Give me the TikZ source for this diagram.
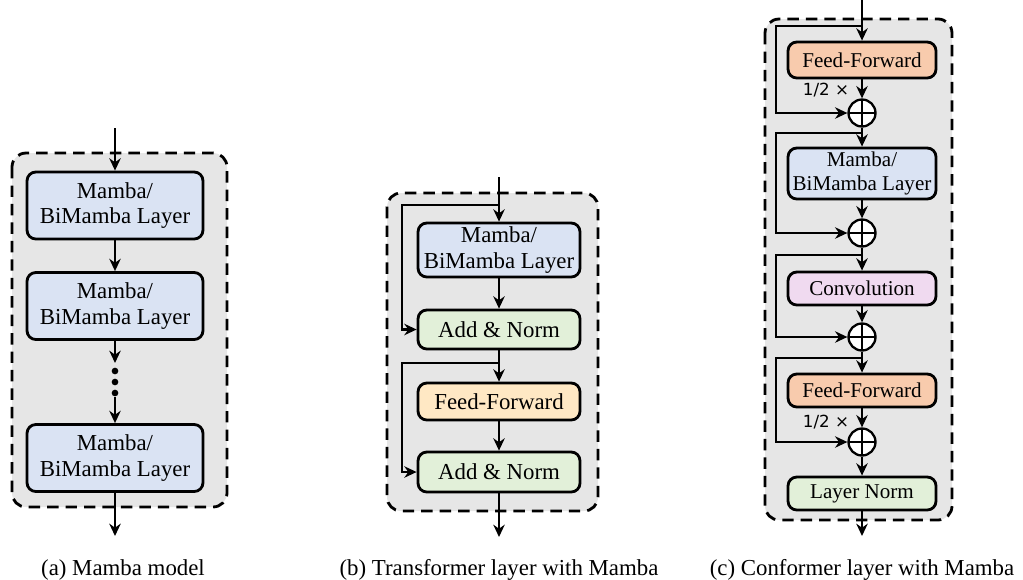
\documentclass[tikz,border=0pt]{standalone}
\usepackage{fontspec}
\setmainfont{Liberation Serif}
\newfontfamily\boxfont{Liberation Serif}
\newfontfamily\halffont{DejaVu Sans}
\usetikzlibrary{arrows.meta}

\definecolor{MambaBlue}{HTML}{DAE3F3}
\definecolor{NormGreen}{HTML}{E2F0D9}
\definecolor{FFYellow}{HTML}{FFE8C4}
\definecolor{FFOrange}{HTML}{F8CBAD}
\definecolor{ConvPink}{HTML}{F0DAF0}
\definecolor{BackGray}{HTML}{E6E6E6}

\tikzset{
  layer/.style={draw, rounded corners=5pt, line width=1.6pt, align=center,
    inner sep=0pt, font=\boxfont\fontsize{13}{14.5}\selectfont},
  smalllayer/.style={layer, font=\boxfont\fontsize{12}{13.5}\selectfont},
  sumnode/.style={draw, circle, fill=white, line width=1.3pt, minimum size=0.54cm,
    inner sep=0pt, path picture={\draw[line width=1.3pt]
      (path picture bounding box.north) -- (path picture bounding box.south)
      (path picture bounding box.west) -- (path picture bounding box.east);}},
  flow/.style={line width=1.4pt, -{Stealth[length=7pt,width=6.5pt]}},
  frame/.style={draw, fill=BackGray, dash pattern=on 6.5pt off 4pt,
    line width=1.6pt, rounded corners=8pt},
  halflabel/.style={font=\halffont\fontsize{9.5}{10}\selectfont, inner sep=0pt},
  caption/.style={font=\boxfont\fontsize{13}{14}\selectfont, anchor=base, inner sep=0pt},
}

\begin{document}
\begin{tikzpicture}[x={(0.02cm,0cm)}, y={(0cm,-0.02cm)}]

 \useasboundingbox (0,0) rectangle (1023,579);

 %%%%%%%%%% (a) Mamba model %%%%%%%%%%
 \draw [frame] (12,153) rectangle (227,507);

 \coordinate (ina) at (115,128);
 \node [layer, fill=MambaBlue, minimum width=3.52cm, minimum height=1.34cm] (ma1) at (115,205.5) {Mamba/\\BiMamba Layer};
 \node [layer, fill=MambaBlue, minimum width=3.52cm, minimum height=1.34cm] (ma2) at (115,306) {Mamba/\\BiMamba Layer};
 \node [layer, fill=MambaBlue, minimum width=3.52cm, minimum height=1.34cm] (ma3) at (115,458) {Mamba/\\BiMamba Layer};
 \coordinate (dota) at (115,363);
 \coordinate (dotb) at (115,397);
 \coordinate (outa) at (115,536);

 \draw [flow] (ina) -- (ma1);
 \draw [flow] (ma1) -- (ma2);
 \draw [flow] (ma2) -- (dota);
 \fill (115,371) circle (1.9pt);
 \fill (115,382) circle (1.9pt);
 \fill (115,393) circle (1.9pt);
 \draw [flow] (dotb) -- (ma3);
 \draw [flow] (ma3) -- (outa);

 \node [caption] (capa) at (123,575) {(a) Mamba model};

 %%%%%%%%%% (b) Transformer layer %%%%%%%%%%
 \draw [frame] (387,193) rectangle (598,511);

 \coordinate (inb) at (499,177);
 \node [layer, fill=MambaBlue, minimum width=3.24cm, minimum height=1.08cm] (mb) at (499,250) {Mamba/\\BiMamba Layer};
 \node [layer, fill=NormGreen, minimum width=3.24cm, minimum height=0.78cm] (an1) at (499,329.5) {Add \& Norm};
 \node [layer, fill=FFYellow, minimum width=3.24cm, minimum height=0.74cm] (ffb) at (499,401.5) {Feed-Forward};
 \node [layer, fill=NormGreen, minimum width=3.24cm, minimum height=0.8cm] (an2) at (499,472) {Add \& Norm};
 \coordinate (outb) at (499,537);

 \coordinate (splb1) at (499,205);
 \coordinate (lb1) at (402,205);
 \coordinate (splb2) at (499,363);
 \coordinate (lb2) at (402,363);

 \draw [flow] (inb) -- (mb);
 \draw [flow] (splb1) -- (lb1) |- (an1.west);
 \draw [flow] (mb) -- (an1);
 \draw [flow] (an1) -- (ffb);
 \draw [flow] (splb2) -- (lb2) |- (an2.west);
 \draw [flow] (ffb) -- (an2);
 \draw [flow] (an2) -- (outb);

 \node [caption] (capb) at (499,575) {(b) Transformer layer with Mamba};

 %%%%%%%%%% (c) Conformer layer %%%%%%%%%%
 \draw [frame] (765,19) rectangle (952,520);

 \coordinate (inc) at (862,0);
 \node [smalllayer, fill=FFOrange, minimum width=2.96cm, minimum height=0.72cm] (ffc1) at (862,60) {Feed-Forward};
 \node [sumnode] (s1) at (862,113) {};
 \node [smalllayer, fill=MambaBlue, minimum width=2.96cm, minimum height=1.02cm] (mc) at (862,173.5) {Mamba/\\BiMamba Layer};
 \node [sumnode] (s2) at (862,233) {};
 \node [smalllayer, fill=ConvPink, minimum width=2.96cm, minimum height=0.66cm] (conv) at (862,288.5) {Convolution};
 \node [sumnode] (s3) at (862,337) {};
 \node [smalllayer, fill=FFOrange, minimum width=2.96cm, minimum height=0.66cm] (ffc2) at (862,390.5) {Feed-Forward};
 \node [sumnode] (s4) at (862,442) {};
 \node [smalllayer, fill=NormGreen, minimum width=2.96cm, minimum height=0.66cm] (ln) at (862,493.5) {Layer Norm};
 \coordinate (outc) at (862,536);

 \node [halflabel] (half1) at (826,90) {1/2 ×};
 \node [halflabel] (half2) at (826,422) {1/2 ×};

 \coordinate (splc1) at (862,26);
 \coordinate (lc1) at (776,26);
 \coordinate (splc2) at (862,133);
 \coordinate (lc2) at (776,133);
 \coordinate (splc3) at (862,255);
 \coordinate (lc3) at (776,255);
 \coordinate (splc4) at (862,358);
 \coordinate (lc4) at (776,358);

 \draw [flow] (inc) -- (ffc1);
 \draw [flow] (ffc1) -- (s1);
 \draw [flow] (splc1) -- (lc1) |- (s1.west);
 \draw [flow] (s1) -- (mc);
 \draw [flow] (mc) -- (s2);
 \draw [flow] (splc2) -- (lc2) |- (s2.west);
 \draw [flow] (s2) -- (conv);
 \draw [flow] (conv) -- (s3);
 \draw [flow] (splc3) -- (lc3) |- (s3.west);
 \draw [flow] (s3) -- (ffc2);
 \draw [flow] (ffc2) -- (s4);
 \draw [flow] (splc4) -- (lc4) |- (s4.west);
 \draw [flow] (s4) -- (ln);
 \draw [flow] (ln) -- (outc);

 \node [caption] (capc) at (862,575) {(c) Conformer layer with Mamba};

\end{tikzpicture}
\end{document}
